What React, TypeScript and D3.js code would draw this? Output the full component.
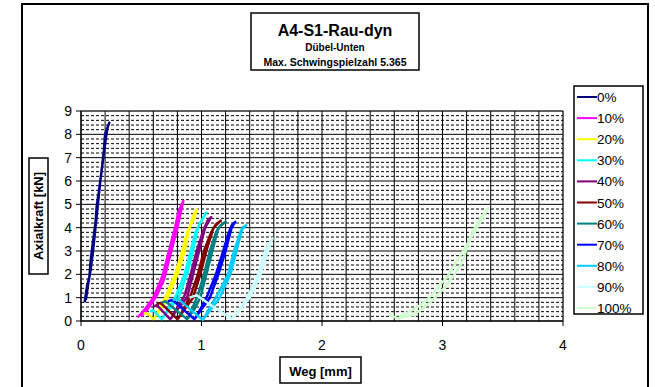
import React from "react";
import * as d3 from "d3";

type Pt = [number, number];

const seriesNames = ["0%", "10%", "20%", "30%", "40%", "50%", "60%", "70%", "80%", "90%", "100%"];
const seriesColors = ["#000080", "#FF00FF", "#FFFF00", "#00FFFF", "#800080", "#800000", "#008080", "#0000FF", "#00CCFF", "#CCFFFF", "#CCFFCC"];

const s0: Pt[] = [[0.03,0.8],[0.05,1.5],[0.07,1.9],[0.08,2.6],[0.1,3.4],[0.12,4.2],[0.13,4.9],[0.15,5.6],[0.17,6.4],[0.19,7.3],[0.2,8.0],[0.235,8.5],[0.22,8.3],[0.2,7.6],[0.18,6.8],[0.16,6.0],[0.14,5.0],[0.12,4.0],[0.1,3.0],[0.08,2.2],[0.06,1.6],[0.04,0.9]];
const s10: Pt[] = [[0.47,0.15],[0.53,0.5],[0.6,1.0],[0.65,1.6],[0.68,2.0],[0.71,2.6],[0.73,3.0],[0.78,4.0],[0.81,4.7],[0.85,5.15],[0.83,4.7],[0.8,4.0],[0.75,3.0],[0.72,2.4],[0.69,1.8],[0.63,1.1],[0.56,0.55],[0.5,0.2]];
const s20: Pt[] = [[0.52,0.33],[0.56,0.3],[0.6,0.08],[0.66,0.5],[0.72,1.0],[0.8,2.0],[0.86,3.0],[0.9,4.0],[0.93,4.5],[0.96,4.8],[0.94,4.4],[0.88,3.8],[0.84,3.0],[0.78,2.0],[0.7,1.0],[0.65,0.5],[0.61,0.12]];
const s30: Pt[] = [[0.57,0.42],[0.6,0.45],[0.67,0.08],[0.73,0.5],[0.81,1.0],[0.88,2.0],[0.93,3.0],[0.97,4.0],[1.04,4.65],[1.0,4.3],[0.95,3.8],[0.91,3.0],[0.86,2.0],[0.79,1.1],[0.72,0.5],[0.68,0.12]];
const s40: Pt[] = [[0.6,0.62],[0.63,0.68],[0.74,0.08],[0.8,0.5],[0.88,1.0],[0.93,2.0],[0.98,3.0],[1.03,4.0],[1.08,4.45],[1.05,4.3],[1.01,3.8],[0.96,3.0],[0.91,2.0],[0.86,1.1],[0.79,0.5],[0.75,0.12]];
const s50: Pt[] = [[0.63,0.72],[0.66,0.78],[0.8,0.08],[0.86,0.5],[0.93,1.0],[0.99,2.0],[1.04,3.0],[1.1,4.0],[1.16,4.3],[1.12,4.15],[1.08,3.8],[1.02,3.0],[0.97,2.0],[0.91,1.1],[0.85,0.5],[0.81,0.12]];
const s60: Pt[] = [[0.67,0.78],[0.7,0.85],[0.88,0.08],[0.94,0.5],[0.99,1.0],[1.04,2.0],[1.09,3.0],[1.14,4.0],[1.2,4.25],[1.16,4.1],[1.12,3.8],[1.07,3.0],[1.02,2.0],[0.97,1.1],[0.92,0.5],[0.89,0.12]];
const s70: Pt[] = [[0.72,0.85],[0.76,0.9],[0.94,0.08],[1.0,0.5],[1.07,1.0],[1.14,2.0],[1.2,3.0],[1.25,4.0],[1.28,4.25],[1.25,4.1],[1.22,3.7],[1.18,3.0],[1.12,2.0],[1.05,1.1],[0.99,0.5],[0.95,0.12]];
const s80: Pt[] = [[0.76,0.9],[0.8,0.97],[1.01,0.05],[1.08,0.5],[1.15,1.0],[1.24,2.0],[1.29,3.0],[1.34,4.0],[1.37,4.1],[1.33,3.9],[1.31,3.6],[1.27,3.0],[1.22,2.0],[1.13,1.1],[1.06,0.5],[1.02,0.1]];
const s90: Pt[] = [[0.9,1.0],[0.96,1.1],[1.1,0.6],[1.25,0.1],[1.32,0.5],[1.4,1.0],[1.49,2.0],[1.55,3.0],[1.59,3.55],[1.56,3.3],[1.53,3.0],[1.47,2.0],[1.38,1.0],[1.3,0.4],[1.26,0.12]];
const s100: Pt[] = [[2.55,0.3],[2.6,0.18],[2.63,0.12],[2.76,0.26],[2.9,0.8],[3.0,1.33],[3.1,2.0],[3.17,2.6],[3.23,3.6],[3.3,4.3],[3.38,4.85],[3.32,4.3],[3.24,3.6],[3.16,2.9],[3.04,1.9],[2.94,1.3],[2.87,0.9],[2.78,0.55],[2.7,0.34],[2.64,0.2]];

const seriesData: Pt[][] = [s0, s10, s20, s30, s40, s50, s60, s70, s80, s90, s100];

const xTicks = [0, 1, 2, 3, 4];
const yTicks = [0, 1, 2, 3, 4, 5, 6, 7, 8, 9];

const titleMain = "A4-S1-Rau-dyn";
const titleSub1 = "Dübel-Unten";
const titleSub2 = "Max. Schwingspielzahl 5.365";
const xTitle = "Weg  [mm]";
const yTitle = "Axialkraft [kN]";

export default function App() {
  const W = 655, H = 387;
  const x = d3.scaleLinear().domain([0, 4]).range([81, 563]);
  const y = d3.scaleLinear().domain([0, 9]).range([321, 111]);
  const line = d3.line<Pt>().x(d => x(d[0])).y(d => y(d[1]));
  const vGrid = d3.range(0.2, 4.0001, 0.2);
  const hMinor = d3.range(0, 9.0001, 0.2).filter(v => Math.abs(v - Math.round(v)) > 0.01);
  const font = "'Liberation Sans', Arial, sans-serif";
  return (
    <svg width={W} height={H} style={{ position: "absolute", left: 0, top: 0 }} fontFamily={font}>
      <rect x={0} y={0} width={W} height={H} fill="#fff" />
      <rect x={22} y={4} width={626} height={400} fill="#fff" stroke="#000" strokeWidth={2} />
      {/* title */}
      <rect x={251} y={13} width={168} height={57} fill="#fff" stroke="#000" strokeWidth={1.5} />
      <text x={335} y={36} textAnchor="middle" fontSize={16} fontWeight="bold">{titleMain}</text>
      <text x={335} y={51} textAnchor="middle" fontSize={10} fontWeight="bold">{titleSub1}</text>
      <text x={335} y={66} textAnchor="middle" fontSize={10.5} fontWeight="bold">{titleSub2}</text>
      {/* plot area */}
      <rect x={81} y={111} width={482} height={210} fill="#fff" stroke="#808080" strokeWidth={1} />
      {hMinor.map((v, i) => (
        <line key={"hm" + i} x1={81} x2={563} y1={y(v)} y2={y(v)} stroke="#000" strokeWidth={1} strokeDasharray="3,2" />
      ))}
      {yTicks.slice(1).map(v => (
        <line key={"hM" + v} x1={81} x2={563} y1={y(v)} y2={y(v)} stroke="#000" strokeWidth={1} />
      ))}
      {vGrid.map((v, i) => (
        <line key={"vg" + i} x1={x(v)} x2={x(v)} y1={111} y2={321} stroke="#000" strokeWidth={1} />
      ))}
      {/* axes */}
      <line x1={81} x2={81} y1={111} y2={321} stroke="#000" strokeWidth={1.5} />
      <line x1={81} x2={563} y1={321} y2={321} stroke="#000" strokeWidth={1.5} />
      {yTicks.map(v => (
        <g key={"yt" + v}>
          <line x1={76} x2={81} y1={y(v)} y2={y(v)} stroke="#000" />
          <text x={72} y={y(v) + 5} textAnchor="end" fontSize={14}>{v}</text>
        </g>
      ))}
      {xTicks.map(v => (
        <g key={"xt" + v}>
          <line x1={x(v)} x2={x(v)} y1={321} y2={326} stroke="#000" />
          <text x={x(v)} y={350} textAnchor="middle" fontSize={14}>{v}</text>
        </g>
      ))}
      {/* series */}
      {seriesData.map((d, i) => (
        <path key={"s" + i} d={line(d) || ""} fill="none" stroke={seriesColors[i]} strokeWidth={2.5} strokeLinejoin="round" />
      ))}
      {/* axis titles */}
      <rect x={280} y={357} width={81} height={26} fill="#fff" stroke="#000" strokeWidth={1.5} />
      <text x={320.5} y={376} textAnchor="middle" fontSize={13} fontWeight="bold">{xTitle}</text>
      <rect x={29} y={158} width={19} height={116} fill="#fff" stroke="#000" strokeWidth={1.5} />
      <text transform="translate(43,216) rotate(-90)" textAnchor="middle" fontSize={13} fontWeight="bold">{yTitle}</text>
      {/* legend */}
      <rect x={574} y={86} width={69} height={228} fill="#fff" stroke="#000" strokeWidth={1.5} />
      {seriesNames.map((n, i) => {
        const ly = 97 + i * 21.1;
        return (
          <g key={"lg" + i}>
            <line x1={577} x2={597} y1={ly} y2={ly} stroke={seriesColors[i]} strokeWidth={2} />
            <text x={597} y={ly + 5} fontSize={13.5}>{n}</text>
          </g>
        );
      })}
    </svg>
  );
}
